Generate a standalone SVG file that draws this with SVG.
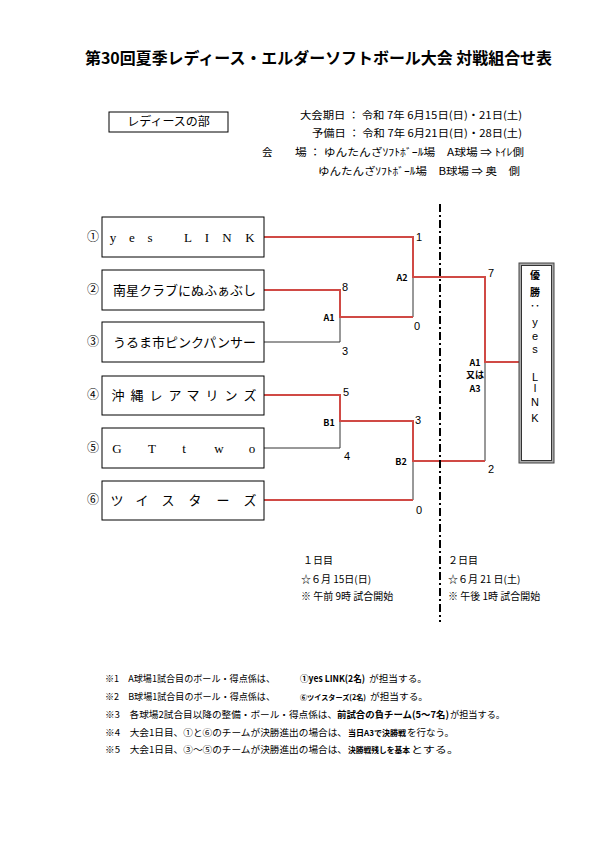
<svg xmlns="http://www.w3.org/2000/svg" width="595" height="842" viewBox="0 0 595 842">
<style>
.jp{font-family:"Noto Sans CJK JP","Liberation Sans",sans-serif;fill:#000}
.sr{font-family:"Liberation Serif","Noto Sans CJK JP",serif;fill:#000}
.box{fill:#fff;stroke:#000;stroke-width:1}
.red{fill:none;stroke:#d04a45;stroke-width:2}
.blk{fill:none;stroke:#333;stroke-width:1}
.lbl{font-family:"Noto Sans CJK JP","Liberation Sans",sans-serif;font-weight:bold;font-size:9px}
.sc{font-family:"Liberation Sans","Noto Sans CJK JP",sans-serif;font-size:11px}
.team{font-size:13px}
.num{font-size:12px}
.hd{font-size:10.5px}
.nt{font-size:9.5px}
.b{font-weight:bold}
.dt{font-size:10px}
</style>
<rect width="595" height="842" fill="#fff"/>

<g id="title">
<text class="jp" x="85" y="64" font-size="16" font-weight="bold" textLength="467" lengthAdjust="spacingAndGlyphs">第30回夏季レディース・エルダーソフトボール大会 対戦組合せ表</text>
</g>

<g id="division">
<rect class="box" x="109" y="112" width="119" height="20"/>
<text class="jp" x="168.5" y="126" font-size="12" text-anchor="middle">レディースの部</text>
</g>

<g id="header">
<text class="jp hd" x="300" y="119" textLength="222" lengthAdjust="spacingAndGlyphs">大会期日 ： 令和 7年 6月15日(日)・21日(土)</text>
<text class="jp hd" x="312" y="137" textLength="210" lengthAdjust="spacingAndGlyphs">予備日 ： 令和 7年 6月21日(日)・28日(土)</text>
<text class="jp hd" x="262" y="156">会</text>
<text class="jp hd" x="295" y="156" textLength="229" lengthAdjust="spacingAndGlyphs">場 ： ゆんたんざｿﾌﾄﾎﾞｰﾙ場　A球場 ⇒ ﾄｲﾚ側</text>
<text class="jp hd" x="318" y="175" textLength="202" lengthAdjust="spacingAndGlyphs">ゆんたんざｿﾌﾄﾎﾞｰﾙ場　B球場 ⇒ 奥　側</text>
</g>

<g id="connectors">
<path class="blk" d="M264,342 H340 V317"/>
<path class="blk" d="M264,448 H340 V421"/>
<path class="blk" d="M413,277 V317"/>
<path class="blk" d="M413,461 V500"/>
<path class="blk" d="M485,362 V461"/>
<path class="red" d="M264,237 H413 V277 H485 V362 H519"/>
<path class="red" d="M264,290 H340 V317 H413"/>
<path class="red" d="M264,395 H340 V421 H413 V461 H485"/>
<path class="red" d="M264,500 H413"/>
<line x1="440" y1="204" x2="440" y2="622" stroke="#000" stroke-width="2" stroke-dasharray="8 3 2 3"/>
</g>

<g id="team1">
<text class="jp num" x="93" y="241" text-anchor="middle">①</text>
<rect class="box" x="102" y="217" width="162" height="40"/>
<text class="sr team" x="113 132 150 188 207 227 250" y="242" text-anchor="middle">yesLINK</text>
</g>
<g id="team2">
<text class="jp num" x="93" y="294" text-anchor="middle">②</text>
<rect class="box" x="102" y="270" width="162" height="40"/>
<text class="jp team" x="113" y="295" textLength="143" lengthAdjust="spacingAndGlyphs">南星クラブにぬふぁぶし</text>
</g>
<g id="team3">
<text class="jp num" x="93" y="346" text-anchor="middle">③</text>
<rect class="box" x="102" y="322" width="162" height="40"/>
<text class="jp team" x="113" y="347" textLength="143" lengthAdjust="spacingAndGlyphs">うるま市ピンクパンサー</text>
</g>
<g id="team4">
<text class="jp num" x="93" y="399" text-anchor="middle">④</text>
<rect class="box" x="102" y="376" width="162" height="39"/>
<text class="jp team" x="118 137 156 175 193 212 231 250" y="400" text-anchor="middle">沖縄レアマリンズ</text>
</g>
<g id="team5">
<text class="jp num" x="93" y="452" text-anchor="middle">⑤</text>
<rect class="box" x="102" y="428" width="162" height="40"/>
<text class="sr team" x="117 152 184 219 252" y="453" text-anchor="middle">GTtwo</text>
</g>
<g id="team6">
<text class="jp num" x="93" y="504" text-anchor="middle">⑥</text>
<rect class="box" x="102" y="481" width="162" height="39"/>
<text class="jp team" x="117 142 168 195 223 250" y="505" text-anchor="middle">ツイスターズ</text>
</g>

<g id="champion">
<rect x="519" y="263" width="35" height="200" fill="#aaa" stroke="#444" stroke-width="1"/>
<rect x="521.5" y="265.5" width="30" height="195" fill="#fff" stroke="#333" stroke-width="1"/>
<text class="jp" font-size="10" font-weight="bold" x="535" y="279" text-anchor="middle">優</text>
<text class="jp" font-size="10" font-weight="bold" x="535" y="296" text-anchor="middle">勝</text>
<text class="jp" font-size="10" font-weight="bold" x="535" y="310" text-anchor="middle">‥</text>
<text class="sc" x="535" y="326" text-anchor="middle">y</text>
<text class="sc" x="535" y="340" text-anchor="middle">e</text>
<text class="sc" x="535" y="353" text-anchor="middle">s</text>
<text class="sc" x="535" y="381" text-anchor="middle">L</text>
<text class="sc" x="535" y="392" text-anchor="middle">I</text>
<text class="sc" x="535" y="406" text-anchor="middle">N</text>
<text class="sc" x="535" y="422" text-anchor="middle">K</text>
</g>

<g id="labels">
<text class="sc" x="419" y="241" text-anchor="middle">1</text>
<text class="lbl" x="402" y="281" text-anchor="middle">A2</text>
<text class="sc" x="417" y="330" text-anchor="middle">0</text>
<text class="sc" x="345" y="291" text-anchor="middle">8</text>
<text class="lbl" x="329" y="321" text-anchor="middle">A1</text>
<text class="sc" x="345" y="355" text-anchor="middle">3</text>
<text class="sc" x="491" y="277" text-anchor="middle">7</text>
<text class="lbl" x="475" y="366" text-anchor="middle">A1</text>
<text class="lbl" x="475" y="378" text-anchor="middle" font-size="7">又は</text>
<text class="lbl" x="475" y="392" text-anchor="middle">A3</text>
<text class="sc" x="491" y="473" text-anchor="middle">2</text>
<text class="sc" x="346" y="396" text-anchor="middle">5</text>
<text class="lbl" x="329" y="426" text-anchor="middle">B1</text>
<text class="sc" x="347" y="460" text-anchor="middle">4</text>
<text class="sc" x="418" y="424" text-anchor="middle">3</text>
<text class="lbl" x="401" y="465" text-anchor="middle">B2</text>
<text class="sc" x="419" y="514" text-anchor="middle">0</text>
</g>

<g id="days">
<text class="jp dt" x="303" y="564">１日目</text>
<text class="jp dt" x="301" y="583">☆６月 15日(日)</text>
<text class="jp dt" x="301" y="600">※ 午前 9時 試合開始</text>
<text class="jp dt" x="448" y="564">２日目</text>
<text class="jp dt" x="448" y="583">☆６月 21 日(土)</text>
<text class="jp dt" x="448" y="600">※ 午後 1時 試合開始</text>
</g>

<g id="notes">
<text class="jp nt" y="682"><tspan x="105" textLength="170" lengthAdjust="spacingAndGlyphs">※1　A球場1試合目のボール・得点係は、</tspan><tspan class="b" x="300" textLength="65" lengthAdjust="spacingAndGlyphs">①yes LINK(2名)</tspan><tspan x="369" textLength="58" lengthAdjust="spacingAndGlyphs">が担当する。</tspan></text>
<text class="jp nt" y="700"><tspan x="105" textLength="170" lengthAdjust="spacingAndGlyphs">※2　B球場1試合目のボール・得点係は、</tspan><tspan class="b" x="300" font-size="7.3" textLength="66" lengthAdjust="spacingAndGlyphs">⑥ツイスターズ(2名)</tspan><tspan x="370" textLength="58" lengthAdjust="spacingAndGlyphs">が担当する。</tspan></text>
<text class="jp nt" y="718"><tspan x="105" textLength="232" lengthAdjust="spacingAndGlyphs">※3　各球場2試合目以降の整備・ボール・得点係は、</tspan><tspan class="b" x="337" textLength="112" lengthAdjust="spacingAndGlyphs">前試合の負チーム(5～7名)</tspan><tspan x="450" textLength="55" lengthAdjust="spacingAndGlyphs">が担当する。</tspan></text>
<text class="jp nt" y="736"><tspan x="105" textLength="242" lengthAdjust="spacingAndGlyphs">※4　大会1日目、①と⑥のチームが決勝進出の場合は、</tspan><tspan class="b" x="348" font-size="8" textLength="58" lengthAdjust="spacingAndGlyphs">当日A3で決勝戦</tspan><tspan x="407" textLength="47" lengthAdjust="spacingAndGlyphs">を行なう。</tspan></text>
<text class="jp nt" y="753"><tspan x="105" textLength="242" lengthAdjust="spacingAndGlyphs">※5　大会1日目、③～⑤のチームが決勝進出の場合は、</tspan><tspan class="b" x="348" font-size="7.7" textLength="62" lengthAdjust="spacingAndGlyphs">決勝戦残しを基本</tspan><tspan x="411" textLength="48" lengthAdjust="spacingAndGlyphs">とする。</tspan></text>
</g>
</svg>
